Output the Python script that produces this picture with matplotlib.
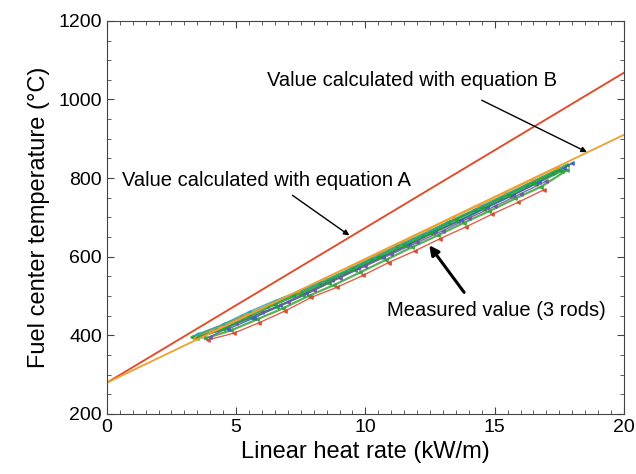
import matplotlib.pyplot as plt
from matplotlib.ticker import MultipleLocator

plt.rcParams['font.family'] = ['Liberation Sans', 'DejaVu Sans']

# calculated lines (end points)
calc_x = [0, 20]
eq_a_y = [279, 1068]
eq_b_y = [279, 910]

# measured values, several traces (3 rods, rising / falling power)
meas = [
    ("#2e9e3a", [3.3, 4.2, 5.2, 6.2, 7.2, 8.2, 9.2, 10.2, 11.2, 12.2, 13.2, 14.2, 15.2, 16.2, 17.2, 17.8],
                [396, 418, 446, 474, 502, 532, 562, 594, 626, 656, 688, 718, 750, 782, 814, 834]),
    ("#1f9f3f", [3.6, 4.6, 5.6, 6.6, 7.6, 8.6, 9.6, 10.6, 11.6, 12.6, 13.6, 14.6, 15.6, 16.6, 17.6],
                [398, 420, 445, 472, 502, 534, 566, 598, 628, 660, 690, 722, 754, 786, 818]),
    ("#3aa43a", [3.8, 4.8, 5.8, 6.8, 7.8, 8.8, 9.8, 10.8, 11.8, 12.8, 13.8, 14.8, 15.8, 16.8, 17.8],
                [392, 412, 440, 468, 500, 528, 560, 592, 624, 654, 686, 716, 748, 778, 820]),
    ("#3560c0", [3.7, 4.7, 5.7, 6.7, 7.7, 8.7, 9.7, 10.7, 11.7, 12.7, 13.7, 14.7, 15.7, 16.7, 17.7, 18.0],
                [400, 416, 444, 476, 508, 540, 570, 600, 632, 664, 694, 726, 756, 790, 826, 838]),
    ("#d9472b", [3.9, 4.9, 5.9, 6.9, 7.9, 8.9, 9.9, 10.9, 11.9, 12.9, 13.9, 14.9, 15.9, 16.9],
                [388, 405, 432, 462, 496, 522, 552, 585, 614, 646, 676, 708, 738, 770]),
    ("#e8962e", [3.4, 4.4, 5.4, 6.4, 7.4, 8.4, 9.4, 10.4, 11.4, 12.4, 13.4, 14.4, 15.4, 16.4, 17.4],
                [392, 424, 452, 482, 512, 544, 574, 604, 636, 668, 700, 730, 762, 794, 826]),
    ("#7a4fa8", [4.0, 5.0, 6.0, 7.0, 8.0, 9.0, 10.0, 11.0, 12.0, 13.0, 14.0, 15.0, 16.0, 17.0],
                [396, 430, 458, 484, 514, 546, 576, 606, 636, 666, 698, 728, 760, 792]),
    ("#2aa7b8", [3.5, 4.5, 5.5, 6.5, 7.5, 8.5, 9.5, 10.5, 11.5, 12.5, 13.5, 14.5, 15.5, 16.5],
                [402, 428, 460, 488, 514, 540, 572, 602, 634, 664, 696, 728, 760, 790]),
    ("#25a035", [3.5, 4.5, 5.5, 6.5, 7.5, 8.5, 9.5, 10.5, 11.5, 12.5, 13.5, 14.5, 15.5, 16.5, 17.5],
                [394, 416, 448, 478, 506, 536, 568, 598, 630, 660, 694, 724, 756, 788, 820]),
]

fig = plt.figure(figsize=(6.36, 4.74), dpi=100)
ax = fig.add_axes([0.168, 0.127, 0.813, 0.829])

for c, xs, ys in meas:
    lw = 1.6 if c in ("#2e9e3a", "#1f9f3f", "#3aa43a", "#25a035") else 1.0
    ax.plot(xs, ys, color=c, lw=lw, marker='<', ms=2.5, alpha=0.85)

ax.plot(calc_x, eq_a_y, color='#e0502e', lw=1.4)
ax.plot(calc_x, eq_b_y, color='#f0a030', lw=1.3)

ax.set_xlim(0, 20)
ax.set_ylim(200, 1200)
ax.xaxis.set_major_locator(MultipleLocator(5))
ax.xaxis.set_minor_locator(MultipleLocator(0.5))
ax.yaxis.set_major_locator(MultipleLocator(200))
ax.yaxis.set_minor_locator(MultipleLocator(50))
ax.tick_params(which='both', direction='in', top=True, right=True, labelsize=14, color='#444444')
ax.tick_params(which='major', length=5)
ax.tick_params(which='minor', length=3)
for s in ax.spines.values():
    s.set_color('#444444')

ax.set_xlabel('Linear heat rate (kW/m)', fontsize=17, labelpad=4)
ax.set_ylabel('Fuel center temperature (°C)', fontsize=17, labelpad=6)

arrow_thin = dict(arrowstyle='-|>', color='black', lw=1.0, mutation_scale=8, shrinkA=0, shrinkB=0)
arrow_thick = dict(arrowstyle='-|>', color='black', lw=2.2, mutation_scale=14, shrinkA=0, shrinkB=0)

ax.text(11.8, 1049, 'Value calculated with equation B', fontsize=14.5, ha='center', va='center')
ax.annotate('', xy=(18.57, 866), xytext=(14.5, 998), arrowprops=arrow_thin)
ax.text(6.18, 794, 'Value calculated with equation A', fontsize=14.5, ha='center', va='center')
ax.annotate('', xy=(9.38, 654), xytext=(7.18, 756), arrowprops=arrow_thin)
ax.text(15.06, 463, 'Measured value (3 rods)', fontsize=14.5, ha='center', va='center')
ax.annotate('', xy=(12.47, 629), xytext=(13.82, 509), arrowprops=arrow_thick)

fig.savefig('out.png', dpi=100)
